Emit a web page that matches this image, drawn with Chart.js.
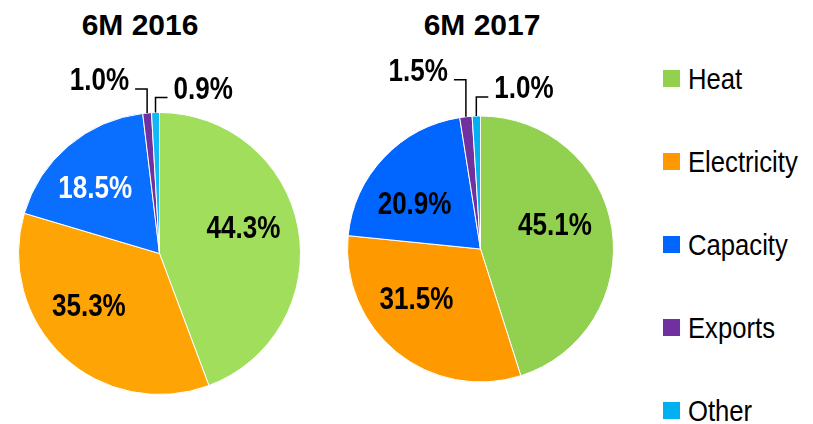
<!DOCTYPE html>
<html>
<head>
<meta charset="utf-8">
<script src="https://cdn.jsdelivr.net/npm/chart.js@4.4.1/dist/chart.umd.min.js"></script>
<style>
  body { margin: 0; background: #fff; width: 813px; height: 424px; overflow: hidden; position: relative; font-family: "Liberation Sans", Arial, sans-serif; }
  .title { position: absolute; width: 200px; text-align: center; font-weight: bold; font-size: 30px; line-height: 30px; top: 10px; color: #000; }
  .box { position: absolute; top: 50px; }
  #legend { position: absolute; left: 663px; top: 64px; font-size: 30px; color: #000; }
  .item { display: flex; align-items: center; height: 29px; margin-bottom: 54px; }
  .swatch { width: 17px; height: 17px; margin-right: 8px; flex: none; }
  .name { display: inline-block; transform: scaleX(0.855); transform-origin: left center; white-space: nowrap; }
</style>
</head>
<body>
<div class="title" style="left:40px">6M 2016</div>
<div class="title" style="left:382px">6M 2017</div>
<div class="box" style="left:0"><canvas id="pie2016" width="330" height="374"></canvas></div>
<div class="box" style="left:330px"><canvas id="pie2017" width="290" height="374"></canvas></div>
<div id="legend"></div>
<script>
// Datos
const categories = ['Heat', 'Electricity', 'Capacity', 'Exports', 'Other'];
const share2016 = [44.3, 35.3, 18.5, 1.0, 0.9];
const share2017 = [45.1, 31.5, 20.9, 1.5, 1.0];

// Colores
const legendColors = ['#92D050', '#FF9900', '#0066FF', '#7030A0', '#00B0F0'];
const colors2016 = ['#A0DE5B', '#FFA405', '#0A6EFF', '#7030A0', '#10B8F5'];
const colors2017 = ['#92D050', '#FF9900', '#0066FF', '#7030A0', '#00B0F0'];

// Texto estrecho (no hay Arial Narrow): se comprime horizontalmente
function narrowText(ctx, text, x, y, align) {
    ctx.save();
    ctx.translate(x, y);
    ctx.scale(0.84, 1);
    ctx.textAlign = align;
    ctx.fillText(text, 0, 0);
    ctx.restore();
}

// Etiquetas de porcentaje dentro y fuera del pastel
const pieLabels = {
    id: 'pieLabels',
    afterDatasetsDraw(chart, args, opts) {
        const ctx = chart.ctx;
        const meta = chart.getDatasetMeta(0);
        const values = chart.data.datasets[0].data;
        let k = 0;
        ctx.save();
        ctx.font = 'bold 31px "Liberation Sans", Arial, sans-serif';
        meta.data.forEach((arc, i) => {
            const p = arc.getProps(['x', 'y', 'startAngle', 'endAngle', 'outerRadius'], true);
            const mid = (p.startAngle + p.endAngle) / 2;
            const text = values[i].toFixed(1) + '%';
            if (values[i] >= 5) {
                const r = p.outerRadius * 0.62;
                const [dx, dy] = opts.nudge[i];
                ctx.fillStyle = opts.textColors[i];
                ctx.textBaseline = 'middle';
                narrowText(ctx, text, p.x + Math.cos(mid) * r + dx, p.y + Math.sin(mid) * r + dy, 'center');
            } else {
                const ax = p.x + Math.cos(mid) * p.outerRadius;
                const ay = p.y + Math.sin(mid) * p.outerRadius;
                const ey = ay - opts.rise[k];
                const dir = opts.side[k] === 'left' ? -1 : 1;
                k++;
                const ex = ax + dir * 12;
                ctx.beginPath();
                ctx.moveTo(ax, ay);
                ctx.lineTo(ax, ey);
                ctx.lineTo(ex, ey);
                ctx.strokeStyle = '#000';
                ctx.lineWidth = 1.5;
                ctx.stroke();
                ctx.fillStyle = '#000';
                ctx.textBaseline = 'alphabetic';
                narrowText(ctx, text, ex + dir * 6, ey + 1, dir < 0 ? 'right' : 'left');
            }
        });
        ctx.restore();
    }
};

function makePie(id, values, colors, padding, labelOpts) {
    return new Chart(document.getElementById(id), {
        type: 'pie',
        data: {
            labels: categories,
            datasets: [{
                data: values,
                backgroundColor: colors,
                borderColor: '#ffffff',
                borderWidth: 1
            }]
        },
        options: {
            responsive: false,
            animation: false,
            layout: { padding: padding },
            plugins: {
                legend: { display: false },
                tooltip: { enabled: false },
                pieLabels: labelOpts
            }
        },
        plugins: [pieLabels]
    });
}

const chart2016 = makePie('pie2016', share2016, colors2016,
    { left: 18, right: 29, top: 62, bottom: 29 },
    { textColors: ['#000', '#000', '#fff'], nudge: [[-2, -8], [-11, -10], [-8, 3]],
      rise: [24, 15], side: ['left', 'right'] });
const chart2017 = makePie('pie2017', share2017, colors2017,
    { left: 17, right: 6, top: 65.5, bottom: 41.5 },
    { textColors: ['#000', '#000', '#000'], nudge: [[-7, -10], [-12, -13], [-6, 13]],
      rise: [37, 19], side: ['left', 'right'] });

// Leyenda
const legend = document.getElementById('legend');
categories.forEach((name, i) => {
    const item = document.createElement('div');
    item.className = 'item';
    item.innerHTML = '<span class="swatch" style="background:' + legendColors[i] + '"></span><span class="name">' + name + '</span>';
    legend.appendChild(item);
});
</script>
</body>
</html>
